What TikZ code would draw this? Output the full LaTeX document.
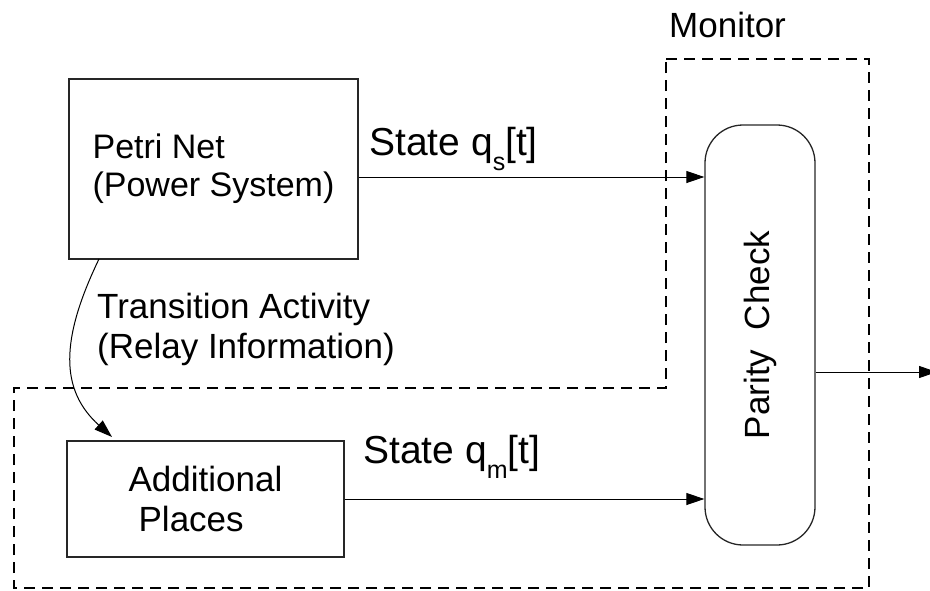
\documentclass[tikz,border=0pt]{standalone}
\usepackage{fontspec}
\setmainfont{Liberation Sans}
\usetikzlibrary{arrows.meta}
\begin{document}
\begin{tikzpicture}[x=1pt,y=-1pt,
  block/.style={draw=black!85,line width=1.3pt,inner sep=0pt},
  lbl/.style={inner sep=0pt},
  flow/.style={line width=1pt,-{Triangle[length=18pt,width=12pt]}},
  monitorline/.style={line width=2pt,dash pattern=on 11pt off 7pt}]
\useasboundingbox (0,0) rectangle (930,590);

% main blocks
\node[block,minimum width=289pt,minimum height=180pt,align=left,
      font=\fontsize{34}{42}\selectfont] (petri) at (213.5,169)
  {\raisebox{-4pt}{Petri Net}\\(Power System)};
\node[block,minimum width=277pt,minimum height=116pt,align=left,
      font=\fontsize{35}{40}\selectfont] (add) at (205.5,499)
  {Additional\\\hspace*{10pt}Places};
\node[block,rounded corners=38pt,rotate=90,minimum width=420pt,minimum height=110pt,
      font=\fontsize{35}{40}\selectfont] (parity) at (760,335)
  {Parity\ \ Check};

% monitor boundary
\draw[monitorline] (666,59) -- (869,59) -- (869,588) -- (14,588) -- (14,388) -- (666,388) -- cycle;
\node[lbl,anchor=base west,font=\fontsize{35}{40}\selectfont] (mon) at (669,37) {Monitor};

% state signals
\coordinate (qs) at ([yshift=-8pt]petri.east);
\draw[flow] (qs) -- (qs -| parity.north);
\draw[flow] (add.east) -- (add.east -| parity.north);
\node[lbl,anchor=base west,font=\fontsize{39}{44}\selectfont] (qslbl) at (369,155)
  {State q\raisebox{-15pt}{\fontsize{25}{25}\selectfont s}[t]};
\node[lbl,anchor=base west,font=\fontsize{39}{44}\selectfont] (qmlbl) at (363,463)
  {State q\raisebox{-15pt}{\fontsize{25}{25}\selectfont m}[t]};

% transition activity
\coordinate (ta) at (99,259);
\coordinate (tb) at (112,437);
\draw[flow] (ta) .. controls (60,340) and (60,390) .. (tb);
\node[lbl,anchor=base west,align=left,font=\fontsize{35}{40}\selectfont] (talbl) at (97,358)
  {Transition Activity\\(Relay Information)};

% output
\coordinate (po) at ([yshift=-37pt]parity.south);
\coordinate (out) at (937,372);
\draw[flow] (po) -- (out);
\end{tikzpicture}
\end{document}
